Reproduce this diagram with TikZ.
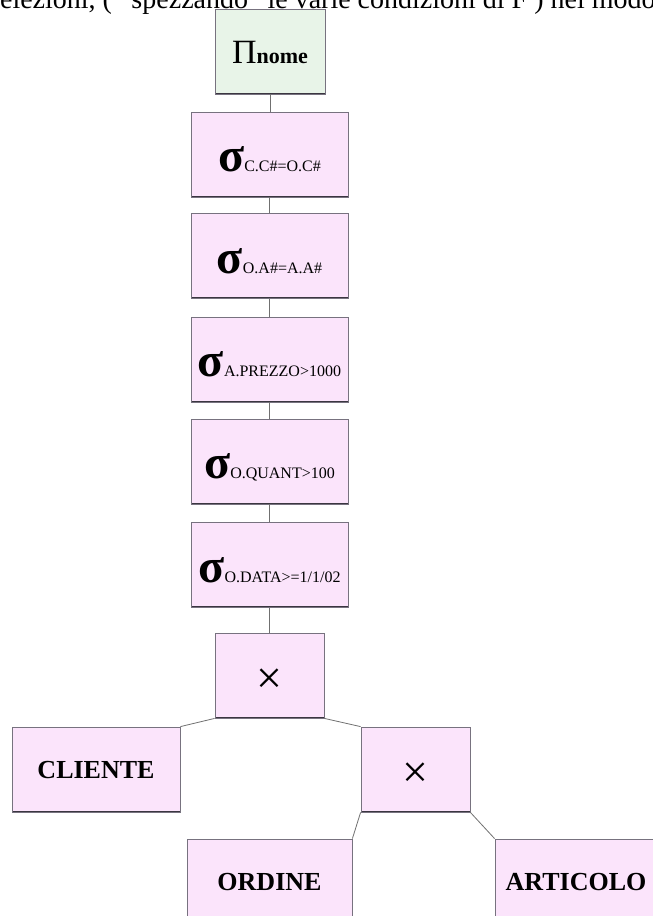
\documentclass[tikz,border=0pt]{standalone}
\usepackage{fontspec}
\setmainfont{Liberation Serif}
\definecolor{selfill}{HTML}{FBE4FB}
\definecolor{projfill}{HTML}{E8F4E8}
\definecolor{boxedge}{HTML}{77727F}
\definecolor{boxshade}{HTML}{3A3640}
\definecolor{linkcol}{HTML}{707070}
% selection label: big sigma followed by its condition
\newcommand\selop[1]{{\fontsize{48}{48}\selectfont\bfseries σ}{\fontsize{16}{16}\selectfont #1}}
\newcommand\projop[1]{{\fontsize{34}{34}\selectfont Π}{\fontsize{22}{22}\selectfont\bfseries #1}}
\newcommand\timesop{{\fontsize{46}{46}\selectfont ×}}
\begin{document}
\begin{tikzpicture}[x=1pt,y=-1pt,
  opbox/.style={draw=boxedge, line width=0.8pt, fill=selfill, inner sep=0pt,
    minimum height=85pt,
    path picture={\draw[line width=3pt, boxshade]
      (path picture bounding box.south west) -- (path picture bounding box.south east);}},
  selbox/.style={opbox, minimum width=157pt, text height=34pt, text depth=0pt},
  prodbox/.style={opbox, minimum width=109pt, text height=36pt, text depth=0pt},
  leafbox/.style={opbox, text height=17pt, text depth=0pt,
    font=\fontsize{26}{26}\selectfont\bfseries},
  link/.style={draw=linkcol, line width=0.8pt}]
\useasboundingbox (0,0) rectangle (653,916);
\clip (0,0) rectangle (653,916);

% running text above the tree
\node[anchor=base west, inner sep=0pt, font=\fontsize{28}{28}\selectfont] (caption)
  at (-11,8) {selezioni, ( “spezzando” le varie condizioni di F ) nel modo};

% projection
\node[opbox, fill=projfill, minimum width=110pt, text height=23pt, text depth=0pt]
  (proj) at (270,51.5) {\projop{nome}};

% chain of selections
\node[selbox] (s1) at (269.5,154.5) {\selop{C.C\#=O.C\#}};
\node[selbox] (s2) at (269.5,256)   {\selop{O.A\#=A.A\#}};
\node[selbox] (s3) at (269.5,359.5) {\selop{A.PREZZO>1000}};
\node[selbox] (s4) at (269.5,461.5) {\selop{O.QUANT>100}};
\node[selbox] (s5) at (269.5,565)   {\selop{O.DATA>=1/1/02}};

% cartesian products
\node[prodbox] (p1) at (269.5,675.5) {\timesop};
\node[prodbox] (p2) at (415.5,769.5) {\timesop};

% relations
\node[leafbox, minimum width=168pt] (cliente)  at (96,769.5)  {CLIENTE};
\node[leafbox, minimum width=165pt] (ordine)   at (269.5,881.5) {ORDINE};
\node[leafbox, minimum width=162pt] (articolo) at (576,881.5) {ARTICOLO};

% edges
\draw[link] (proj.south) -- (proj.south |- s1.north);
\draw[link] (s1.south) -- (s2.north);
\draw[link] (s2.south) -- (s3.north);
\draw[link] (s3.south) -- (s4.north);
\draw[link] (s4.south) -- (s5.north);
\draw[link] (s5.south) -- (p1.north);
\draw[link] (p1.south west) -- (cliente.north east);
\draw[link] (p1.south east) -- (p2.north west);
\draw[link] (p2.south west) -- (ordine.north east);
\draw[link] (p2.south east) -- (articolo.north west);
\end{tikzpicture}
\end{document}
